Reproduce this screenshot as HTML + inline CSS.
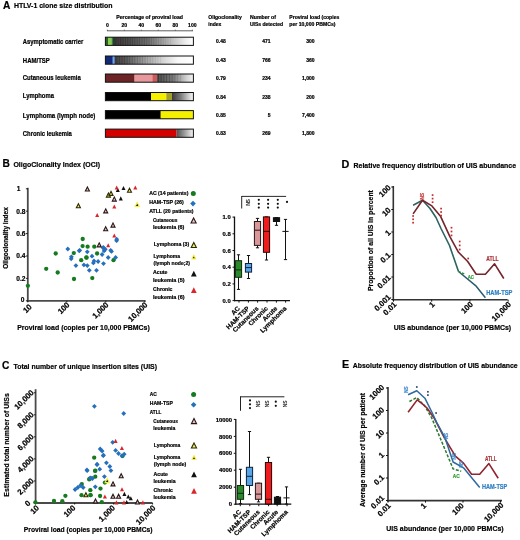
<!DOCTYPE html>
<html><head><meta charset="utf-8"><title>HTLV-1 clone size distribution</title>
<style>html,body{margin:0;padding:0;background:#fff;width:520px;height:540px;overflow:hidden}svg{display:block;filter:blur(0.3px)}text{font-family:"Liberation Sans",sans-serif}</style>
</head><body>
<svg width="520" height="540" viewBox="0 0 520 540" font-family='"Liberation Sans", sans-serif'>
<defs><linearGradient id="g1" x1="0" x2="1" y1="0" y2="0">
<stop offset="0" stop-color="#3c3c3c"/><stop offset="0.2" stop-color="#505050"/><stop offset="0.42" stop-color="#6e6e6e"/><stop offset="0.57" stop-color="#969696"/><stop offset="0.77" stop-color="#cacaca"/><stop offset="0.9" stop-color="#ececec"/><stop offset="1" stop-color="#fff"/></linearGradient><linearGradient id="g2" x1="0" x2="1" y1="0" y2="0">
<stop offset="0" stop-color="#454545"/><stop offset="0.12" stop-color="#585858"/><stop offset="0.41" stop-color="#a8a8a8"/><stop offset="0.64" stop-color="#dcdcdc"/><stop offset="0.8" stop-color="#f8f8f8"/><stop offset="1" stop-color="#fff"/></linearGradient><linearGradient id="g3" x1="0" x2="1" y1="0" y2="0">
<stop offset="0" stop-color="#505050"/><stop offset="0.45" stop-color="#7a7a7a"/><stop offset="0.8" stop-color="#cfcfcf"/><stop offset="1" stop-color="#f4f4f4"/></linearGradient><linearGradient id="g4" x1="0" x2="1" y1="0" y2="0">
<stop offset="0" stop-color="#3a3a3a"/><stop offset="0.4" stop-color="#7a7a7a"/><stop offset="0.85" stop-color="#dcdcdc"/><stop offset="1" stop-color="#f8f8f8"/></linearGradient><linearGradient id="g6" x1="0" x2="1" y1="0" y2="0">
<stop offset="0" stop-color="#505050"/><stop offset="0.5" stop-color="#a0a0a0"/><stop offset="1" stop-color="#f5f5f5"/></linearGradient></defs>
<rect width="520" height="540" fill="#fff"/>
<text x="2.90" y="8.70" font-size="10.2" font-weight="bold" fill="#000" stroke="#000" stroke-width="0.2">A</text>
<text x="13.90" y="8.00" font-size="7.6" font-weight="bold" fill="#000" textLength="98.60" lengthAdjust="spacingAndGlyphs" stroke="#000" stroke-width="0.2">HTLV-1 clone size distribution</text>
<text x="116.30" y="18.60" font-size="4.8" font-weight="bold" fill="#000" textLength="66.70" lengthAdjust="spacingAndGlyphs" stroke="#000" stroke-width="0.2">Percentage of proviral load</text>
<text x="107.30" y="27.20" font-size="5.1" font-weight="bold" fill="#000" text-anchor="middle" stroke="#000" stroke-width="0.2">0</text>
<text x="124.30" y="27.20" font-size="5.1" font-weight="bold" fill="#000" text-anchor="middle" stroke="#000" stroke-width="0.2">20</text>
<text x="141.30" y="27.20" font-size="5.1" font-weight="bold" fill="#000" text-anchor="middle" stroke="#000" stroke-width="0.2">40</text>
<text x="158.30" y="27.20" font-size="5.1" font-weight="bold" fill="#000" text-anchor="middle" stroke="#000" stroke-width="0.2">60</text>
<text x="175.30" y="27.20" font-size="5.1" font-weight="bold" fill="#000" text-anchor="middle" stroke="#000" stroke-width="0.2">80</text>
<text x="192.30" y="27.20" font-size="5.1" font-weight="bold" fill="#000" text-anchor="middle" stroke="#000" stroke-width="0.2">100</text>
<line x1="107.00" y1="30.80" x2="193.00" y2="30.80" stroke="#333" stroke-width="0.8"/>
<line x1="107.30" y1="29.60" x2="107.30" y2="30.80" stroke="#333" stroke-width="0.6"/>
<line x1="124.30" y1="29.60" x2="124.30" y2="30.80" stroke="#333" stroke-width="0.6"/>
<line x1="141.30" y1="29.60" x2="141.30" y2="30.80" stroke="#333" stroke-width="0.6"/>
<line x1="158.30" y1="29.60" x2="158.30" y2="30.80" stroke="#333" stroke-width="0.6"/>
<line x1="175.30" y1="29.60" x2="175.30" y2="30.80" stroke="#333" stroke-width="0.6"/>
<line x1="192.30" y1="29.60" x2="192.30" y2="30.80" stroke="#333" stroke-width="0.6"/>
<text x="22.80" y="44.00" font-size="6.5" font-weight="bold" fill="#000" textLength="60.50" lengthAdjust="spacingAndGlyphs" stroke="#000" stroke-width="0.2">Asymptomatic carrier</text>
<text x="22.80" y="62.60" font-size="6.5" font-weight="bold" fill="#000" textLength="27.00" lengthAdjust="spacingAndGlyphs" stroke="#000" stroke-width="0.2">HAM/TSP</text>
<text x="22.80" y="80.20" font-size="6.5" font-weight="bold" fill="#000" textLength="58.00" lengthAdjust="spacingAndGlyphs" stroke="#000" stroke-width="0.2">Cutaneous leukemia</text>
<text x="22.80" y="98.30" font-size="6.5" font-weight="bold" fill="#000" textLength="31.10" lengthAdjust="spacingAndGlyphs" stroke="#000" stroke-width="0.2">Lymphoma</text>
<text x="22.80" y="117.60" font-size="6.5" font-weight="bold" fill="#000" textLength="72.60" lengthAdjust="spacingAndGlyphs" stroke="#000" stroke-width="0.2">Lymphoma  (lymph node)</text>
<text x="22.80" y="136.10" font-size="6.5" font-weight="bold" fill="#000" textLength="49.10" lengthAdjust="spacingAndGlyphs" stroke="#000" stroke-width="0.2">Chronic leukemia</text>
<rect x="115.00" y="37.20" width="78.40" height="8.20" fill="url(#g1)" stroke="none" stroke-width="0"/>
<rect x="115.50" y="37.20" width="0.80" height="8.20" fill="#1a1a1a" stroke="none" stroke-width="0" opacity="0.45"/>
<rect x="117.87" y="37.20" width="0.80" height="8.20" fill="#1a1a1a" stroke="none" stroke-width="0" opacity="0.4326086956521739"/>
<rect x="120.24" y="37.20" width="0.80" height="8.20" fill="#1a1a1a" stroke="none" stroke-width="0" opacity="0.4152173913043478"/>
<rect x="122.61" y="37.20" width="0.80" height="8.20" fill="#1a1a1a" stroke="none" stroke-width="0" opacity="0.3978260869565218"/>
<rect x="124.98" y="37.20" width="0.80" height="8.20" fill="#1a1a1a" stroke="none" stroke-width="0" opacity="0.3804347826086957"/>
<rect x="127.35" y="37.20" width="0.80" height="8.20" fill="#1a1a1a" stroke="none" stroke-width="0" opacity="0.3630434782608696"/>
<rect x="129.72" y="37.20" width="0.80" height="8.20" fill="#1a1a1a" stroke="none" stroke-width="0" opacity="0.3456521739130435"/>
<rect x="132.09" y="37.20" width="0.80" height="8.20" fill="#1a1a1a" stroke="none" stroke-width="0" opacity="0.3282608695652174"/>
<rect x="134.46" y="37.20" width="0.80" height="8.20" fill="#1a1a1a" stroke="none" stroke-width="0" opacity="0.3108695652173913"/>
<rect x="136.83" y="37.20" width="0.80" height="8.20" fill="#1a1a1a" stroke="none" stroke-width="0" opacity="0.2934782608695652"/>
<rect x="139.20" y="37.20" width="0.80" height="8.20" fill="#1a1a1a" stroke="none" stroke-width="0" opacity="0.27608695652173915"/>
<rect x="141.57" y="37.20" width="0.80" height="8.20" fill="#1a1a1a" stroke="none" stroke-width="0" opacity="0.25869565217391305"/>
<rect x="143.93" y="37.20" width="0.80" height="8.20" fill="#1a1a1a" stroke="none" stroke-width="0" opacity="0.24130434782608695"/>
<rect x="146.30" y="37.20" width="0.80" height="8.20" fill="#1a1a1a" stroke="none" stroke-width="0" opacity="0.22391304347826088"/>
<rect x="148.67" y="37.20" width="0.80" height="8.20" fill="#1a1a1a" stroke="none" stroke-width="0" opacity="0.20652173913043476"/>
<rect x="151.04" y="37.20" width="0.80" height="8.20" fill="#1a1a1a" stroke="none" stroke-width="0" opacity="0.18913043478260871"/>
<rect x="153.41" y="37.20" width="0.80" height="8.20" fill="#1a1a1a" stroke="none" stroke-width="0" opacity="0.17173913043478262"/>
<rect x="155.78" y="37.20" width="0.80" height="8.20" fill="#1a1a1a" stroke="none" stroke-width="0" opacity="0.15434782608695652"/>
<rect x="158.15" y="37.20" width="0.80" height="8.20" fill="#1a1a1a" stroke="none" stroke-width="0" opacity="0.13695652173913042"/>
<rect x="160.52" y="37.20" width="0.80" height="8.20" fill="#1a1a1a" stroke="none" stroke-width="0" opacity="0.11956521739130432"/>
<rect x="162.89" y="37.20" width="0.80" height="8.20" fill="#1a1a1a" stroke="none" stroke-width="0" opacity="0.10217391304347828"/>
<rect x="165.26" y="37.20" width="0.80" height="8.20" fill="#1a1a1a" stroke="none" stroke-width="0" opacity="0.08478260869565218"/>
<rect x="167.63" y="37.20" width="0.80" height="8.20" fill="#1a1a1a" stroke="none" stroke-width="0" opacity="0.06739130434782609"/>
<rect x="170.00" y="37.20" width="0.80" height="8.20" fill="#1a1a1a" stroke="none" stroke-width="0" opacity="0.04999999999999999"/>
<rect x="118.50" y="37.20" width="0.80" height="8.20" fill="#6a3a3a" stroke="none" stroke-width="0" opacity="0.5"/>
<rect x="121.50" y="37.20" width="0.80" height="8.20" fill="#6a3a3a" stroke="none" stroke-width="0" opacity="0.4"/>
<rect x="124.00" y="37.20" width="0.80" height="8.20" fill="#505050" stroke="none" stroke-width="0" opacity="0.4"/>
<rect x="105.40" y="37.20" width="2.60" height="8.20" fill="#2e5e2a" stroke="none" stroke-width="0"/>
<rect x="108.00" y="37.20" width="3.50" height="8.20" fill="#84d046" stroke="none" stroke-width="0"/>
<rect x="111.50" y="37.20" width="1.50" height="8.20" fill="#3d7a3a" stroke="none" stroke-width="0"/>
<rect x="113.00" y="37.20" width="2.00" height="8.20" fill="#2a3a34" stroke="none" stroke-width="0"/>
<rect x="105.40" y="37.20" width="88.00" height="8.20" fill="none" stroke="#111" stroke-width="1.0"/>
<rect x="116.00" y="56.00" width="77.40" height="8.20" fill="url(#g2)" stroke="none" stroke-width="0"/>
<rect x="116.50" y="56.00" width="0.80" height="8.20" fill="#1a1a1a" stroke="none" stroke-width="0" opacity="0.4"/>
<rect x="119.06" y="56.00" width="0.80" height="8.20" fill="#1a1a1a" stroke="none" stroke-width="0" opacity="0.3794117647058824"/>
<rect x="121.62" y="56.00" width="0.80" height="8.20" fill="#1a1a1a" stroke="none" stroke-width="0" opacity="0.3588235294117647"/>
<rect x="124.18" y="56.00" width="0.80" height="8.20" fill="#1a1a1a" stroke="none" stroke-width="0" opacity="0.3382352941176471"/>
<rect x="126.74" y="56.00" width="0.80" height="8.20" fill="#1a1a1a" stroke="none" stroke-width="0" opacity="0.3176470588235294"/>
<rect x="129.29" y="56.00" width="0.80" height="8.20" fill="#1a1a1a" stroke="none" stroke-width="0" opacity="0.29705882352941176"/>
<rect x="131.85" y="56.00" width="0.80" height="8.20" fill="#1a1a1a" stroke="none" stroke-width="0" opacity="0.27647058823529413"/>
<rect x="134.41" y="56.00" width="0.80" height="8.20" fill="#1a1a1a" stroke="none" stroke-width="0" opacity="0.25588235294117645"/>
<rect x="136.97" y="56.00" width="0.80" height="8.20" fill="#1a1a1a" stroke="none" stroke-width="0" opacity="0.23529411764705882"/>
<rect x="139.53" y="56.00" width="0.80" height="8.20" fill="#1a1a1a" stroke="none" stroke-width="0" opacity="0.2147058823529412"/>
<rect x="142.09" y="56.00" width="0.80" height="8.20" fill="#1a1a1a" stroke="none" stroke-width="0" opacity="0.19411764705882353"/>
<rect x="144.65" y="56.00" width="0.80" height="8.20" fill="#1a1a1a" stroke="none" stroke-width="0" opacity="0.17352941176470588"/>
<rect x="147.21" y="56.00" width="0.80" height="8.20" fill="#1a1a1a" stroke="none" stroke-width="0" opacity="0.15294117647058822"/>
<rect x="149.76" y="56.00" width="0.80" height="8.20" fill="#1a1a1a" stroke="none" stroke-width="0" opacity="0.13235294117647062"/>
<rect x="152.32" y="56.00" width="0.80" height="8.20" fill="#1a1a1a" stroke="none" stroke-width="0" opacity="0.11176470588235293"/>
<rect x="154.88" y="56.00" width="0.80" height="8.20" fill="#1a1a1a" stroke="none" stroke-width="0" opacity="0.0911764705882353"/>
<rect x="157.44" y="56.00" width="0.80" height="8.20" fill="#1a1a1a" stroke="none" stroke-width="0" opacity="0.07058823529411762"/>
<rect x="160.00" y="56.00" width="0.80" height="8.20" fill="#1a1a1a" stroke="none" stroke-width="0" opacity="0.04999999999999999"/>
<rect x="122.00" y="56.00" width="0.80" height="8.20" fill="#7a3a3a" stroke="none" stroke-width="0" opacity="0.5"/>
<rect x="125.00" y="56.00" width="0.80" height="8.20" fill="#3a6a5a" stroke="none" stroke-width="0" opacity="0.4"/>
<rect x="105.40" y="56.00" width="7.40" height="8.20" fill="#12297a" stroke="none" stroke-width="0"/>
<rect x="112.80" y="56.00" width="1.60" height="8.20" fill="#6aaae8" stroke="none" stroke-width="0"/>
<rect x="114.40" y="56.00" width="1.60" height="8.20" fill="#303a5a" stroke="none" stroke-width="0"/>
<rect x="105.40" y="56.00" width="88.00" height="8.20" fill="none" stroke="#111" stroke-width="1.0"/>
<rect x="157.00" y="74.00" width="36.40" height="8.20" fill="url(#g3)" stroke="none" stroke-width="0"/>
<rect x="158.00" y="74.00" width="0.80" height="8.20" fill="#111" stroke="none" stroke-width="0" opacity="0.5"/>
<rect x="160.75" y="74.00" width="0.80" height="8.20" fill="#111" stroke="none" stroke-width="0" opacity="0.45"/>
<rect x="163.50" y="74.00" width="0.80" height="8.20" fill="#111" stroke="none" stroke-width="0" opacity="0.4"/>
<rect x="166.25" y="74.00" width="0.80" height="8.20" fill="#111" stroke="none" stroke-width="0" opacity="0.35"/>
<rect x="169.00" y="74.00" width="0.80" height="8.20" fill="#111" stroke="none" stroke-width="0" opacity="0.3"/>
<rect x="171.75" y="74.00" width="0.80" height="8.20" fill="#111" stroke="none" stroke-width="0" opacity="0.25"/>
<rect x="174.50" y="74.00" width="0.80" height="8.20" fill="#111" stroke="none" stroke-width="0" opacity="0.19999999999999996"/>
<rect x="177.25" y="74.00" width="0.80" height="8.20" fill="#111" stroke="none" stroke-width="0" opacity="0.14999999999999997"/>
<rect x="180.00" y="74.00" width="0.80" height="8.20" fill="#111" stroke="none" stroke-width="0" opacity="0.09999999999999998"/>
<rect x="105.40" y="74.00" width="29.20" height="8.20" fill="#6e2426" stroke="none" stroke-width="0"/>
<rect x="134.60" y="74.00" width="17.70" height="8.20" fill="#e8989c" stroke="none" stroke-width="0"/>
<rect x="152.30" y="74.00" width="4.70" height="8.20" fill="#cc5c5c" stroke="none" stroke-width="0"/>
<rect x="105.40" y="74.00" width="88.00" height="8.20" fill="none" stroke="#111" stroke-width="1.0"/>
<rect x="172.00" y="92.50" width="21.40" height="8.20" fill="url(#g4)" stroke="none" stroke-width="0"/>
<rect x="105.40" y="92.50" width="45.60" height="8.20" fill="#000" stroke="none" stroke-width="0"/>
<rect x="151.00" y="92.50" width="15.30" height="8.20" fill="#f5f000" stroke="none" stroke-width="0"/>
<rect x="166.30" y="92.50" width="5.70" height="8.20" fill="#a3a022" stroke="none" stroke-width="0"/>
<rect x="105.40" y="92.50" width="88.00" height="8.20" fill="none" stroke="#111" stroke-width="1.0"/>
<rect x="160.00" y="110.60" width="33.40" height="8.20" fill="url(#g4)" stroke="none" stroke-width="0"/>
<rect x="105.40" y="110.60" width="55.20" height="8.20" fill="#000" stroke="none" stroke-width="0"/>
<rect x="160.60" y="110.60" width="32.80" height="8.20" fill="#f5f000" stroke="none" stroke-width="0"/>
<rect x="105.40" y="110.60" width="88.00" height="8.20" fill="none" stroke="#111" stroke-width="1.0"/>
<rect x="176.50" y="129.10" width="16.90" height="8.20" fill="url(#g6)" stroke="none" stroke-width="0"/>
<rect x="105.40" y="129.10" width="71.10" height="8.20" fill="#d40000" stroke="none" stroke-width="0"/>
<rect x="105.40" y="129.10" width="88.00" height="8.20" fill="none" stroke="#111" stroke-width="1.0"/>
<text x="208.30" y="19.00" font-size="4.9" font-weight="bold" fill="#000" textLength="33.40" lengthAdjust="spacingAndGlyphs" stroke="#000" stroke-width="0.2">Oligoclonality</text>
<text x="208.30" y="26.00" font-size="4.9" font-weight="bold" fill="#000" textLength="13.00" lengthAdjust="spacingAndGlyphs" stroke="#000" stroke-width="0.2">index</text>
<text x="250.00" y="19.00" font-size="4.9" font-weight="bold" fill="#000" textLength="26.00" lengthAdjust="spacingAndGlyphs" stroke="#000" stroke-width="0.2">Number of</text>
<text x="250.00" y="26.00" font-size="4.9" font-weight="bold" fill="#000" textLength="33.00" lengthAdjust="spacingAndGlyphs" stroke="#000" stroke-width="0.2">UISs detected</text>
<text x="289.30" y="19.00" font-size="4.9" font-weight="bold" fill="#000" textLength="50.00" lengthAdjust="spacingAndGlyphs" stroke="#000" stroke-width="0.2">Proviral load (copies</text>
<text x="289.30" y="26.00" font-size="4.9" font-weight="bold" fill="#000" textLength="46.20" lengthAdjust="spacingAndGlyphs" stroke="#000" stroke-width="0.2">per 10,000 PBMCs)</text>
<text x="216.00" y="43.20" font-size="5.0" font-weight="bold" fill="#000" stroke="#000" stroke-width="0.2">0.48</text>
<text x="270.60" y="43.20" font-size="5.0" font-weight="bold" fill="#000" text-anchor="end" stroke="#000" stroke-width="0.2">471</text>
<text x="314.60" y="43.20" font-size="5.0" font-weight="bold" fill="#000" text-anchor="end" stroke="#000" stroke-width="0.2">300</text>
<text x="216.00" y="62.00" font-size="5.0" font-weight="bold" fill="#000" stroke="#000" stroke-width="0.2">0.43</text>
<text x="270.60" y="62.00" font-size="5.0" font-weight="bold" fill="#000" text-anchor="end" stroke="#000" stroke-width="0.2">766</text>
<text x="314.60" y="62.00" font-size="5.0" font-weight="bold" fill="#000" text-anchor="end" stroke="#000" stroke-width="0.2">360</text>
<text x="216.00" y="80.00" font-size="5.0" font-weight="bold" fill="#000" stroke="#000" stroke-width="0.2">0.79</text>
<text x="270.60" y="80.00" font-size="5.0" font-weight="bold" fill="#000" text-anchor="end" stroke="#000" stroke-width="0.2">234</text>
<text x="314.60" y="80.00" font-size="5.0" font-weight="bold" fill="#000" text-anchor="end" stroke="#000" stroke-width="0.2">1,000</text>
<text x="216.00" y="98.50" font-size="5.0" font-weight="bold" fill="#000" stroke="#000" stroke-width="0.2">0.84</text>
<text x="270.60" y="98.50" font-size="5.0" font-weight="bold" fill="#000" text-anchor="end" stroke="#000" stroke-width="0.2">238</text>
<text x="314.60" y="98.50" font-size="5.0" font-weight="bold" fill="#000" text-anchor="end" stroke="#000" stroke-width="0.2">200</text>
<text x="216.00" y="116.60" font-size="5.0" font-weight="bold" fill="#000" stroke="#000" stroke-width="0.2">0.85</text>
<text x="270.60" y="116.60" font-size="5.0" font-weight="bold" fill="#000" text-anchor="end" stroke="#000" stroke-width="0.2">5</text>
<text x="314.60" y="116.60" font-size="5.0" font-weight="bold" fill="#000" text-anchor="end" stroke="#000" stroke-width="0.2">7,400</text>
<text x="216.00" y="135.10" font-size="5.0" font-weight="bold" fill="#000" stroke="#000" stroke-width="0.2">0.83</text>
<text x="270.60" y="135.10" font-size="5.0" font-weight="bold" fill="#000" text-anchor="end" stroke="#000" stroke-width="0.2">269</text>
<text x="314.60" y="135.10" font-size="5.0" font-weight="bold" fill="#000" text-anchor="end" stroke="#000" stroke-width="0.2">1,800</text>
<text x="2.60" y="167.00" font-size="10.2" font-weight="bold" fill="#000" stroke="#000" stroke-width="0.2">B</text>
<text x="13.40" y="166.70" font-size="7.5" font-weight="bold" fill="#000" textLength="86.60" lengthAdjust="spacingAndGlyphs" stroke="#000" stroke-width="0.2">OligoClonality Index (OCI)</text>
<line x1="27.80" y1="187.80" x2="27.80" y2="301.70" stroke="#4a4a4a" stroke-width="1.8"/>
<line x1="26.90" y1="300.80" x2="145.60" y2="300.80" stroke="#4a4a4a" stroke-width="1.8"/>
<line x1="25.90" y1="300.80" x2="27.80" y2="300.80" stroke="#111" stroke-width="0.9"/>
<line x1="25.90" y1="278.40" x2="27.80" y2="278.40" stroke="#111" stroke-width="0.9"/>
<line x1="25.90" y1="256.00" x2="27.80" y2="256.00" stroke="#111" stroke-width="0.9"/>
<line x1="25.90" y1="233.60" x2="27.80" y2="233.60" stroke="#111" stroke-width="0.9"/>
<line x1="25.90" y1="211.20" x2="27.80" y2="211.20" stroke="#111" stroke-width="0.9"/>
<line x1="25.90" y1="188.80" x2="27.80" y2="188.80" stroke="#111" stroke-width="0.9"/>
<text x="24.40" y="302.10" font-size="6.6" font-weight="bold" fill="#000" text-anchor="end" stroke="#000" stroke-width="0.2">0</text>
<text x="25.40" y="280.70" font-size="6.6" font-weight="bold" fill="#000" text-anchor="end" stroke="#000" stroke-width="0.2">0.2</text>
<text x="25.40" y="258.30" font-size="6.6" font-weight="bold" fill="#000" text-anchor="end" stroke="#000" stroke-width="0.2">0.4</text>
<text x="25.40" y="235.90" font-size="6.6" font-weight="bold" fill="#000" text-anchor="end" stroke="#000" stroke-width="0.2">0.6</text>
<text x="25.40" y="213.50" font-size="6.6" font-weight="bold" fill="#000" text-anchor="end" stroke="#000" stroke-width="0.2">0.8</text>
<text x="20.40" y="191.10" font-size="6.6" font-weight="bold" fill="#000" text-anchor="end" stroke="#000" stroke-width="0.2">1</text>
<line x1="27.80" y1="300.80" x2="27.80" y2="302.30" stroke="#111" stroke-width="0.9"/>
<line x1="66.80" y1="300.80" x2="66.80" y2="302.30" stroke="#111" stroke-width="0.9"/>
<line x1="105.80" y1="300.80" x2="105.80" y2="302.30" stroke="#111" stroke-width="0.9"/>
<line x1="144.80" y1="300.80" x2="144.80" y2="302.30" stroke="#111" stroke-width="0.9"/>
<text x="32.40" y="307.30" font-size="7.8" font-weight="bold" fill="#000" text-anchor="end" transform="rotate(-45 32.40 307.30)" stroke="#000" stroke-width="0.2">10</text>
<text x="70.20" y="305.30" font-size="7.8" font-weight="bold" fill="#000" text-anchor="end" transform="rotate(-45 70.20 305.30)" stroke="#000" stroke-width="0.2">100</text>
<text x="109.20" y="305.30" font-size="7.8" font-weight="bold" fill="#000" text-anchor="end" transform="rotate(-45 109.20 305.30)" stroke="#000" stroke-width="0.2">1,000</text>
<text x="148.20" y="305.30" font-size="7.8" font-weight="bold" fill="#000" text-anchor="end" transform="rotate(-45 148.20 305.30)" stroke="#000" stroke-width="0.2">10,000</text>
<text x="7.70" y="238.00" font-size="6.4" font-weight="bold" fill="#000" text-anchor="middle" textLength="61.50" lengthAdjust="spacingAndGlyphs" transform="rotate(-90 7.70 238.00)" stroke="#000" stroke-width="0.2">Oligoclonality index</text>
<text x="17.20" y="329.60" font-size="7.2" font-weight="bold" fill="#000" textLength="132.60" lengthAdjust="spacingAndGlyphs" stroke="#000" stroke-width="0.2">Proviral load (copies per 10,000 PBMCs)</text>
<circle cx="82.60" cy="246.10" r="2.15" fill="#167a1f"/>
<circle cx="87.60" cy="246.70" r="2.15" fill="#167a1f"/>
<circle cx="94.30" cy="246.70" r="2.15" fill="#167a1f"/>
<circle cx="55.70" cy="253.50" r="2.15" fill="#167a1f"/>
<circle cx="73.80" cy="253.10" r="2.15" fill="#167a1f"/>
<circle cx="97.10" cy="253.50" r="2.15" fill="#167a1f"/>
<circle cx="86.40" cy="257.50" r="2.15" fill="#167a1f"/>
<circle cx="81.20" cy="260.20" r="2.15" fill="#167a1f"/>
<circle cx="113.50" cy="260.20" r="2.15" fill="#167a1f"/>
<circle cx="57.70" cy="272.50" r="2.15" fill="#167a1f"/>
<circle cx="46.20" cy="268.80" r="2.15" fill="#167a1f"/>
<circle cx="74.00" cy="279.00" r="2.15" fill="#167a1f"/>
<circle cx="92.30" cy="278.10" r="2.15" fill="#167a1f"/>
<circle cx="27.90" cy="285.80" r="2.15" fill="#167a1f"/>
<circle cx="82.70" cy="239.00" r="2.15" fill="#167a1f"/>
<circle cx="86.50" cy="257.70" r="2.15" fill="#167a1f"/>
<path d="M67.80 246.60L70.20 249.00L67.80 251.40L65.40 249.00Z" fill="#2470bd"/>
<path d="M79.20 248.40L81.60 250.80L79.20 253.20L76.80 250.80Z" fill="#2470bd"/>
<path d="M87.30 249.40L89.70 251.80L87.30 254.20L84.90 251.80Z" fill="#2470bd"/>
<path d="M103.50 245.90L105.90 248.30L103.50 250.70L101.10 248.30Z" fill="#2470bd"/>
<path d="M105.30 246.90L107.70 249.30L105.30 251.70L102.90 249.30Z" fill="#2470bd"/>
<path d="M104.10 248.50L106.50 250.90L104.10 253.30L101.70 250.90Z" fill="#2470bd"/>
<path d="M111.50 249.00L113.90 251.40L111.50 253.80L109.10 251.40Z" fill="#2470bd"/>
<path d="M116.60 238.30L119.00 240.70L116.60 243.10L114.20 240.70Z" fill="#2470bd"/>
<path d="M102.10 252.10L104.50 254.50L102.10 256.90L99.70 254.50Z" fill="#2470bd"/>
<path d="M71.40 254.40L73.80 256.80L71.40 259.20L69.00 256.80Z" fill="#2470bd"/>
<path d="M71.20 256.40L73.60 258.80L71.20 261.20L68.80 258.80Z" fill="#2470bd"/>
<path d="M92.00 253.80L94.40 256.20L92.00 258.60L89.60 256.20Z" fill="#2470bd"/>
<path d="M108.20 255.10L110.60 257.50L108.20 259.90L105.80 257.50Z" fill="#2470bd"/>
<path d="M115.60 255.10L118.00 257.50L115.60 259.90L113.20 257.50Z" fill="#2470bd"/>
<path d="M94.00 258.50L96.40 260.90L94.00 263.30L91.60 260.90Z" fill="#2470bd"/>
<path d="M98.10 259.10L100.50 261.50L98.10 263.90L95.70 261.50Z" fill="#2470bd"/>
<path d="M93.40 260.50L95.80 262.90L93.40 265.30L91.00 262.90Z" fill="#2470bd"/>
<path d="M103.50 261.20L105.90 263.60L103.50 266.00L101.10 263.60Z" fill="#2470bd"/>
<path d="M75.90 263.20L78.30 265.60L75.90 268.00L73.50 265.60Z" fill="#2470bd"/>
<path d="M83.90 262.50L86.30 264.90L83.90 267.30L81.50 264.90Z" fill="#2470bd"/>
<path d="M87.30 263.20L89.70 265.60L87.30 268.00L84.90 265.60Z" fill="#2470bd"/>
<path d="M89.30 267.90L91.70 270.30L89.30 272.70L86.90 270.30Z" fill="#2470bd"/>
<path d="M96.50 267.90L98.90 270.30L96.50 272.70L94.10 270.30Z" fill="#2470bd"/>
<path d="M116.70 236.80L119.10 239.20L116.70 241.60L114.30 239.20Z" fill="#2470bd"/>
<path d="M103.30 244.90L105.70 247.30L103.30 249.70L100.90 247.30Z" fill="#2470bd"/>
<path d="M110.70 247.90L113.10 250.30L110.70 252.70L108.30 250.30Z" fill="#2470bd"/>
<path d="M79.70 247.90L82.10 250.30L79.70 252.70L77.30 250.30Z" fill="#2470bd"/>
<polygon points="87.40,186.97 89.42,191.02 85.38,191.02" fill="#e8c8c8" stroke="#2a1616" stroke-width="1.1" stroke-linejoin="miter"/>
<polygon points="114.30,197.07 116.32,201.12 112.28,201.12" fill="#e8c8c8" stroke="#2a1616" stroke-width="1.1" stroke-linejoin="miter"/>
<polygon points="105.70,208.87 107.72,212.92 103.68,212.92" fill="#e8c8c8" stroke="#2a1616" stroke-width="1.1" stroke-linejoin="miter"/>
<polygon points="113.00,223.07 115.02,227.12 110.98,227.12" fill="#e8c8c8" stroke="#2a1616" stroke-width="1.1" stroke-linejoin="miter"/>
<polygon points="105.70,226.67 107.72,230.72 103.68,230.72" fill="#e8c8c8" stroke="#2a1616" stroke-width="1.1" stroke-linejoin="miter"/>
<polygon points="99.20,242.87 101.22,246.92 97.18,246.92" fill="#e8c8c8" stroke="#2a1616" stroke-width="1.1" stroke-linejoin="miter"/>
<polygon points="78.40,203.77 80.42,207.82 76.38,207.82" fill="#f0f070" stroke="#2a2a00" stroke-width="1.1"/>
<polygon points="129.50,188.27 131.52,192.32 127.48,192.32" fill="#f0f070" stroke="#2a2a00" stroke-width="1.1"/>
<polygon points="108.40,193.07 110.42,197.12 106.38,197.12" fill="#f0f070" stroke="#2a2a00" stroke-width="1.1"/>
<polygon points="111.00,191.37 113.02,195.42 108.98,195.42" fill="#f0f070" stroke="#2a2a00" stroke-width="1.1"/>
<polygon points="137.20,202.47 139.22,206.52 135.18,206.52" fill="#111" stroke="#f5f040" stroke-width="1.1"/>
<polygon points="117.80,187.87 119.82,191.92 115.78,191.92" fill="#111"/>
<polygon points="123.50,186.07 125.52,190.12 121.48,190.12" fill="#111"/>
<polygon points="120.80,196.37 122.82,200.42 118.78,200.42" fill="#111"/>
<polygon points="116.70,185.57 118.72,189.62 114.68,189.62" fill="#d9262b"/>
<polygon points="135.30,185.57 137.32,189.62 133.28,189.62" fill="#d9262b"/>
<polygon points="114.30,204.47 116.32,208.52 112.28,208.52" fill="#d9262b"/>
<polygon points="97.20,212.97 99.22,217.02 95.18,217.02" fill="#d9262b"/>
<polygon points="114.30,233.47 116.32,237.52 112.28,237.52" fill="#d9262b"/>
<polygon points="108.20,243.27 110.22,247.32 106.18,247.32" fill="#d9262b"/>
<text x="149.20" y="195.40" font-size="5.2" font-weight="bold" fill="#000" textLength="39.20" lengthAdjust="spacingAndGlyphs" stroke="#000" stroke-width="0.2">AC (14 patients)</text>
<circle cx="193.30" cy="193.60" r="2.5" fill="#167a1f"/>
<text x="149.20" y="204.30" font-size="5.2" font-weight="bold" fill="#000" textLength="34.60" lengthAdjust="spacingAndGlyphs" stroke="#000" stroke-width="0.2">HAM-TSP (26)</text>
<path d="M193.00 200.80L195.80 203.60L193.00 206.40L190.20 203.60Z" fill="#2470bd"/>
<text x="149.20" y="212.70" font-size="5.2" font-weight="bold" fill="#000" textLength="44.40" lengthAdjust="spacingAndGlyphs" stroke="#000" stroke-width="0.2">ATLL (20 patients)</text>
<text x="152.90" y="221.90" font-size="5.2" font-weight="bold" fill="#000" textLength="24.50" lengthAdjust="spacingAndGlyphs" stroke="#000" stroke-width="0.2">Cutaneous</text>
<text x="152.90" y="228.90" font-size="5.2" font-weight="bold" fill="#000" textLength="31.50" lengthAdjust="spacingAndGlyphs" stroke="#000" stroke-width="0.2">leukemia (6)</text>
<polygon points="193.60,217.91 196.18,223.06 191.02,223.06" fill="#e8c8c8" stroke="#2a1616" stroke-width="1.1" stroke-linejoin="miter"/>
<text x="153.80" y="245.80" font-size="5.2" font-weight="bold" fill="#000" textLength="35.40" lengthAdjust="spacingAndGlyphs" stroke="#000" stroke-width="0.2">Lymphoma (3)</text>
<polygon points="193.80,242.41 196.38,247.56 191.22,247.56" fill="#f0f070" stroke="#2a2a00" stroke-width="1.1"/>
<text x="153.50" y="257.70" font-size="5.2" font-weight="bold" fill="#000" textLength="26.50" lengthAdjust="spacingAndGlyphs" stroke="#000" stroke-width="0.2">Lymphoma</text>
<text x="153.50" y="264.80" font-size="5.2" font-weight="bold" fill="#000" textLength="36.50" lengthAdjust="spacingAndGlyphs" stroke="#000" stroke-width="0.2">(lymph node;2)</text>
<polygon points="193.80,255.19 195.64,258.87 191.96,258.87" fill="#111" stroke="#f5f040" stroke-width="1.1"/>
<text x="153.00" y="274.30" font-size="5.2" font-weight="bold" fill="#000" textLength="14.50" lengthAdjust="spacingAndGlyphs" stroke="#000" stroke-width="0.2">Acute</text>
<text x="153.00" y="281.70" font-size="5.2" font-weight="bold" fill="#000" textLength="31.50" lengthAdjust="spacingAndGlyphs" stroke="#000" stroke-width="0.2">leukemia (5)</text>
<polygon points="193.80,270.75 196.68,276.50 190.93,276.50" fill="#111"/>
<text x="153.00" y="290.80" font-size="5.2" font-weight="bold" fill="#000" textLength="19.50" lengthAdjust="spacingAndGlyphs" stroke="#000" stroke-width="0.2">Chronic</text>
<text x="153.00" y="298.50" font-size="5.2" font-weight="bold" fill="#000" textLength="31.50" lengthAdjust="spacingAndGlyphs" stroke="#000" stroke-width="0.2">leukemia (6)</text>
<polygon points="193.80,287.35 196.68,293.10 190.93,293.10" fill="#d9262b"/>
<line x1="234.50" y1="216.60" x2="234.50" y2="301.20" stroke="#111" stroke-width="1.3"/>
<line x1="233.90" y1="300.60" x2="290.00" y2="300.60" stroke="#111" stroke-width="1.3"/>
<line x1="232.50" y1="300.60" x2="234.50" y2="300.60" stroke="#111" stroke-width="1.0"/>
<text x="230.80" y="302.70" font-size="5.9" font-weight="bold" fill="#000" text-anchor="end" stroke="#000" stroke-width="0.2">0.0</text>
<line x1="232.50" y1="283.90" x2="234.50" y2="283.90" stroke="#111" stroke-width="1.0"/>
<text x="230.80" y="286.00" font-size="5.9" font-weight="bold" fill="#000" text-anchor="end" stroke="#000" stroke-width="0.2">0.2</text>
<line x1="232.50" y1="267.20" x2="234.50" y2="267.20" stroke="#111" stroke-width="1.0"/>
<text x="230.80" y="269.30" font-size="5.9" font-weight="bold" fill="#000" text-anchor="end" stroke="#000" stroke-width="0.2">0.4</text>
<line x1="232.50" y1="250.50" x2="234.50" y2="250.50" stroke="#111" stroke-width="1.0"/>
<text x="230.80" y="252.60" font-size="5.9" font-weight="bold" fill="#000" text-anchor="end" stroke="#000" stroke-width="0.2">0.6</text>
<line x1="232.50" y1="233.80" x2="234.50" y2="233.80" stroke="#111" stroke-width="1.0"/>
<text x="230.80" y="235.90" font-size="5.9" font-weight="bold" fill="#000" text-anchor="end" stroke="#000" stroke-width="0.2">0.8</text>
<line x1="232.50" y1="217.10" x2="234.50" y2="217.10" stroke="#111" stroke-width="1.0"/>
<text x="230.80" y="219.20" font-size="5.9" font-weight="bold" fill="#000" text-anchor="end" stroke="#000" stroke-width="0.2">1.0</text>
<line x1="239.00" y1="300.60" x2="239.00" y2="302.60" stroke="#111" stroke-width="1.0"/>
<line x1="248.40" y1="300.60" x2="248.40" y2="302.60" stroke="#111" stroke-width="1.0"/>
<line x1="257.60" y1="300.60" x2="257.60" y2="302.60" stroke="#111" stroke-width="1.0"/>
<line x1="267.00" y1="300.60" x2="267.00" y2="302.60" stroke="#111" stroke-width="1.0"/>
<line x1="276.40" y1="300.60" x2="276.40" y2="302.60" stroke="#111" stroke-width="1.0"/>
<line x1="285.60" y1="300.60" x2="285.60" y2="302.60" stroke="#111" stroke-width="1.0"/>
<line x1="238.50" y1="254.80" x2="238.50" y2="289.40" stroke="#111" stroke-width="1.0"/>
<line x1="236.90" y1="254.80" x2="240.10" y2="254.80" stroke="#111" stroke-width="1.0"/>
<line x1="236.90" y1="289.40" x2="240.10" y2="289.40" stroke="#111" stroke-width="1.0"/>
<rect x="235.40" y="260.70" width="6.20" height="16.60" fill="#2a8a2a" stroke="#0d2a0d" stroke-width="1.0"/>
<line x1="235.40" y1="269.90" x2="241.60" y2="269.90" stroke="#0d2a0d" stroke-width="1.0"/>
<line x1="248.50" y1="255.50" x2="248.50" y2="278.50" stroke="#111" stroke-width="1.0"/>
<line x1="246.90" y1="255.50" x2="250.10" y2="255.50" stroke="#111" stroke-width="1.0"/>
<line x1="246.90" y1="278.50" x2="250.10" y2="278.50" stroke="#111" stroke-width="1.0"/>
<rect x="245.40" y="263.50" width="6.20" height="8.60" fill="#5aa5e6" stroke="#0c2440" stroke-width="1.0"/>
<line x1="245.40" y1="267.60" x2="251.60" y2="267.60" stroke="#0c2440" stroke-width="1.0"/>
<line x1="257.50" y1="218.40" x2="257.50" y2="247.80" stroke="#111" stroke-width="1.0"/>
<line x1="255.90" y1="218.40" x2="259.10" y2="218.40" stroke="#111" stroke-width="1.0"/>
<line x1="255.90" y1="247.80" x2="259.10" y2="247.80" stroke="#111" stroke-width="1.0"/>
<rect x="254.40" y="221.50" width="6.20" height="23.90" fill="#d8989a" stroke="#2a1414" stroke-width="1.0"/>
<line x1="254.40" y1="230.20" x2="260.60" y2="230.20" stroke="#2a1414" stroke-width="1.0"/>
<line x1="266.50" y1="216.90" x2="266.50" y2="260.00" stroke="#111" stroke-width="1.0"/>
<line x1="264.90" y1="216.90" x2="268.10" y2="216.90" stroke="#111" stroke-width="1.0"/>
<line x1="264.90" y1="260.00" x2="268.10" y2="260.00" stroke="#111" stroke-width="1.0"/>
<rect x="263.40" y="216.90" width="6.20" height="35.40" fill="#ee1c1c" stroke="#2a0606" stroke-width="1.0"/>
<line x1="263.40" y1="231.40" x2="269.60" y2="231.40" stroke="#2a0606" stroke-width="1.0"/>
<line x1="276.50" y1="217.70" x2="276.50" y2="225.30" stroke="#111" stroke-width="1.0"/>
<line x1="274.90" y1="217.70" x2="278.10" y2="217.70" stroke="#111" stroke-width="1.0"/>
<line x1="274.90" y1="225.30" x2="278.10" y2="225.30" stroke="#111" stroke-width="1.0"/>
<rect x="273.40" y="217.70" width="6.20" height="3.80" fill="#111" stroke="#111" stroke-width="1.0"/>
<line x1="273.40" y1="219.20" x2="279.60" y2="219.20" stroke="#111" stroke-width="1.0"/>
<line x1="285.50" y1="219.40" x2="285.50" y2="259.60" stroke="#111" stroke-width="1.0"/>
<line x1="283.90" y1="219.40" x2="287.10" y2="219.40" stroke="#111" stroke-width="1.0"/>
<line x1="283.90" y1="259.60" x2="287.10" y2="259.60" stroke="#111" stroke-width="1.0"/>
<line x1="282.40" y1="231.40" x2="288.60" y2="231.40" stroke="#111" stroke-width="1.0"/>
<text x="240.40" y="308.90" font-size="6.5" font-weight="bold" fill="#000" text-anchor="end" transform="rotate(-45 240.40 308.90)" stroke="#000" stroke-width="0.2">AC</text>
<text x="249.80" y="308.90" font-size="6.5" font-weight="bold" fill="#000" text-anchor="end" transform="rotate(-45 249.80 308.90)" stroke="#000" stroke-width="0.2">HAM-TSP</text>
<text x="259.00" y="308.90" font-size="6.5" font-weight="bold" fill="#000" text-anchor="end" transform="rotate(-45 259.00 308.90)" stroke="#000" stroke-width="0.2">Cutaneous</text>
<text x="268.40" y="308.90" font-size="6.5" font-weight="bold" fill="#000" text-anchor="end" transform="rotate(-45 268.40 308.90)" stroke="#000" stroke-width="0.2">Chronic</text>
<text x="277.80" y="308.90" font-size="6.5" font-weight="bold" fill="#000" text-anchor="end" transform="rotate(-45 277.80 308.90)" stroke="#000" stroke-width="0.2">Acute</text>
<text x="287.00" y="308.90" font-size="6.5" font-weight="bold" fill="#000" text-anchor="end" transform="rotate(-45 287.00 308.90)" stroke="#000" stroke-width="0.2">Lymphoma</text>
<line x1="241.70" y1="196.40" x2="286.10" y2="196.40" stroke="#111" stroke-width="0.9"/>
<line x1="241.70" y1="196.00" x2="241.70" y2="208.50" stroke="#111" stroke-width="0.9"/>
<text x="250.00" y="202.40" font-size="4.6" font-weight="normal" fill="#000" text-anchor="middle" transform="rotate(-90 250.00 202.40)" stroke="#222" stroke-width="0.15">NS</text>
<circle cx="258.80" cy="199.80" r="1.1" fill="#111"/>
<circle cx="258.80" cy="203.80" r="1.1" fill="#111"/>
<circle cx="258.80" cy="207.60" r="1.1" fill="#111"/>
<circle cx="268.10" cy="199.80" r="1.1" fill="#111"/>
<circle cx="268.10" cy="203.80" r="1.1" fill="#111"/>
<circle cx="268.10" cy="207.60" r="1.1" fill="#111"/>
<circle cx="277.80" cy="199.80" r="1.1" fill="#111"/>
<circle cx="277.80" cy="203.80" r="1.1" fill="#111"/>
<circle cx="277.80" cy="207.60" r="1.1" fill="#111"/>
<circle cx="287.00" cy="201.90" r="1.1" fill="#111"/>
<text x="341.60" y="167.60" font-size="10.8" font-weight="bold" fill="#000" stroke="#000" stroke-width="0.2">D</text>
<text x="353.50" y="167.50" font-size="7.8" font-weight="bold" fill="#000" textLength="162.50" lengthAdjust="spacingAndGlyphs" stroke="#000" stroke-width="0.2">Relative frequency distribution of UIS abundance</text>
<line x1="393.30" y1="186.00" x2="393.30" y2="300.50" stroke="#333" stroke-width="1.6"/>
<line x1="392.50" y1="299.70" x2="507.60" y2="299.70" stroke="#333" stroke-width="1.6"/>
<line x1="391.30" y1="187.00" x2="393.30" y2="187.00" stroke="#111" stroke-width="1.0"/>
<text x="391.30" y="188.20" font-size="7.8" font-weight="bold" fill="#000" text-anchor="end" transform="rotate(-45 391.30 188.20)" stroke="#000" stroke-width="0.2">100</text>
<line x1="391.30" y1="209.50" x2="393.30" y2="209.50" stroke="#111" stroke-width="1.0"/>
<text x="391.30" y="210.70" font-size="7.8" font-weight="bold" fill="#000" text-anchor="end" transform="rotate(-45 391.30 210.70)" stroke="#000" stroke-width="0.2">10</text>
<line x1="391.30" y1="232.00" x2="393.30" y2="232.00" stroke="#111" stroke-width="1.0"/>
<text x="391.30" y="233.20" font-size="7.8" font-weight="bold" fill="#000" text-anchor="end" transform="rotate(-45 391.30 233.20)" stroke="#000" stroke-width="0.2">1</text>
<line x1="391.30" y1="254.50" x2="393.30" y2="254.50" stroke="#111" stroke-width="1.0"/>
<text x="391.30" y="255.70" font-size="7.8" font-weight="bold" fill="#000" text-anchor="end" transform="rotate(-45 391.30 255.70)" stroke="#000" stroke-width="0.2">0.1</text>
<line x1="391.30" y1="277.00" x2="393.30" y2="277.00" stroke="#111" stroke-width="1.0"/>
<text x="391.30" y="278.20" font-size="7.8" font-weight="bold" fill="#000" text-anchor="end" transform="rotate(-45 391.30 278.20)" stroke="#000" stroke-width="0.2">0.01</text>
<line x1="391.30" y1="299.50" x2="393.30" y2="299.50" stroke="#111" stroke-width="1.0"/>
<text x="391.30" y="297.70" font-size="7.8" font-weight="bold" fill="#000" text-anchor="end" transform="rotate(-45 391.30 297.70)" stroke="#000" stroke-width="0.2">0.001</text>
<line x1="393.50" y1="299.70" x2="393.50" y2="301.70" stroke="#111" stroke-width="1.0"/>
<text x="397.10" y="304.90" font-size="7.8" font-weight="bold" fill="#000" text-anchor="end" transform="rotate(-45 397.10 304.90)" stroke="#000" stroke-width="0.2">0.01</text>
<line x1="431.70" y1="299.70" x2="431.70" y2="301.70" stroke="#111" stroke-width="1.0"/>
<text x="435.30" y="304.90" font-size="7.8" font-weight="bold" fill="#000" text-anchor="end" transform="rotate(-45 435.30 304.90)" stroke="#000" stroke-width="0.2">1</text>
<line x1="469.90" y1="299.70" x2="469.90" y2="301.70" stroke="#111" stroke-width="1.0"/>
<text x="473.50" y="304.90" font-size="7.8" font-weight="bold" fill="#000" text-anchor="end" transform="rotate(-45 473.50 304.90)" stroke="#000" stroke-width="0.2">100</text>
<line x1="508.10" y1="299.70" x2="508.10" y2="301.70" stroke="#111" stroke-width="1.0"/>
<text x="511.70" y="304.90" font-size="7.8" font-weight="bold" fill="#000" text-anchor="end" transform="rotate(-45 511.70 304.90)" stroke="#000" stroke-width="0.2">10,000</text>
<text x="373.00" y="240.60" font-size="7.5" font-weight="bold" fill="#000" text-anchor="middle" textLength="101.00" lengthAdjust="spacingAndGlyphs" transform="rotate(-90 373.00 240.60)" stroke="#000" stroke-width="0.2">Proportion of all UIS in percent</text>
<text x="393.80" y="330.00" font-size="7.3" font-weight="bold" fill="#000" textLength="117.40" lengthAdjust="spacingAndGlyphs" stroke="#000" stroke-width="0.2">UIS abundance (per 10,000 PBMCs)</text>
<polyline points="413.10,205.20 422.50,200.30 430.00,208.50 436.00,217.50 441.00,228.50 449.50,245.50 458.50,271.50" fill="none" stroke="#2c6460" stroke-width="1.6" stroke-linejoin="round"/>
<polyline points="458.50,271.50 476.20,286.20 485.40,297.70" fill="none" stroke="#2d5a72" stroke-width="1.5" stroke-linejoin="round"/>
<polyline points="458.50,271.50 464.80,274.00" fill="none" stroke="#2a8a2a" stroke-width="1.3" stroke-linejoin="round" stroke-dasharray="2.5,1.2"/>
<polyline points="413.10,213.90 422.50,200.30 431.90,205.90 440.70,216.60 450.00,236.90 458.50,252.30 467.70,261.50 476.20,274.20 485.40,274.20 494.60,263.80 503.80,278.50" fill="none" stroke="#74242a" stroke-width="1.6" stroke-linejoin="round"/>
<text x="486.20" y="260.80" font-size="6.6" font-weight="bold" fill="#a83236" textLength="12.30" lengthAdjust="spacingAndGlyphs" stroke="#a83236" stroke-width="0.2">ATLL</text>
<text x="486.20" y="294.60" font-size="6.6" font-weight="bold" fill="#2f7fc0" textLength="26.10" lengthAdjust="spacingAndGlyphs" stroke="#2f7fc0" stroke-width="0.2">HAM-TSP</text>
<text x="467.70" y="279.00" font-size="6.0" font-weight="bold" fill="#2a9a2a" textLength="6.20" lengthAdjust="spacingAndGlyphs" stroke="#2a9a2a" stroke-width="0.2">AC</text>
<rect x="412.25" y="215.15" width="1.7" height="1.7" fill="#c42a2a"/>
<rect x="412.25" y="218.45" width="1.7" height="1.7" fill="#c42a2a"/>
<rect x="412.25" y="221.85" width="1.7" height="1.7" fill="#c42a2a"/>
<text x="424.00" y="196.20" font-size="4.6" font-weight="normal" fill="#c42a2a" text-anchor="middle" transform="rotate(-90 424.00 196.20)" stroke="#c42a2a" stroke-width="0.25">NS</text>
<rect x="431.75" y="194.25" width="1.7" height="1.7" fill="#c42a2a"/>
<rect x="431.75" y="197.75" width="1.7" height="1.7" fill="#c42a2a"/>
<rect x="431.75" y="201.35" width="1.7" height="1.7" fill="#c42a2a"/>
<rect x="440.25" y="207.75" width="1.7" height="1.7" fill="#c42a2a"/>
<rect x="440.25" y="211.15" width="1.7" height="1.7" fill="#c42a2a"/>
<rect x="440.25" y="214.75" width="1.7" height="1.7" fill="#c42a2a"/>
<rect x="450.65" y="226.85" width="1.7" height="1.7" fill="#c42a2a"/>
<rect x="450.65" y="230.65" width="1.7" height="1.7" fill="#c42a2a"/>
<rect x="450.65" y="234.55" width="1.7" height="1.7" fill="#c42a2a"/>
<rect x="458.85" y="240.65" width="1.7" height="1.7" fill="#c42a2a"/>
<rect x="458.85" y="244.55" width="1.7" height="1.7" fill="#c42a2a"/>
<rect x="458.85" y="248.65" width="1.7" height="1.7" fill="#c42a2a"/>
<rect x="467.35" y="257.65" width="1.7" height="1.7" fill="#c42a2a"/>
<text x="2.00" y="369.10" font-size="10.2" font-weight="bold" fill="#000" stroke="#000" stroke-width="0.2">C</text>
<text x="13.50" y="368.60" font-size="7.5" font-weight="bold" fill="#000" textLength="143.50" lengthAdjust="spacingAndGlyphs" stroke="#000" stroke-width="0.2">Total number of unique insertion sites (UIS)</text>
<line x1="35.60" y1="389.20" x2="35.60" y2="503.90" stroke="#4a4a4a" stroke-width="1.8"/>
<line x1="34.70" y1="503.00" x2="152.60" y2="503.00" stroke="#4a4a4a" stroke-width="1.8"/>
<line x1="33.70" y1="503.00" x2="35.60" y2="503.00" stroke="#111" stroke-width="0.9"/>
<text x="31.20" y="503.60" font-size="7.8" font-weight="bold" fill="#000" text-anchor="end" transform="rotate(-45 31.20 503.60)" stroke="#000" stroke-width="0.2">0</text>
<line x1="33.70" y1="480.95" x2="35.60" y2="480.95" stroke="#111" stroke-width="0.9"/>
<text x="34.40" y="481.35" font-size="7.8" font-weight="bold" fill="#000" text-anchor="end" transform="rotate(-45 34.40 481.35)" stroke="#000" stroke-width="0.2">2,000</text>
<line x1="33.70" y1="458.90" x2="35.60" y2="458.90" stroke="#111" stroke-width="0.9"/>
<text x="34.40" y="459.30" font-size="7.8" font-weight="bold" fill="#000" text-anchor="end" transform="rotate(-45 34.40 459.30)" stroke="#000" stroke-width="0.2">4,000</text>
<line x1="33.70" y1="436.85" x2="35.60" y2="436.85" stroke="#111" stroke-width="0.9"/>
<text x="34.40" y="437.25" font-size="7.8" font-weight="bold" fill="#000" text-anchor="end" transform="rotate(-45 34.40 437.25)" stroke="#000" stroke-width="0.2">6,000</text>
<line x1="33.70" y1="414.80" x2="35.60" y2="414.80" stroke="#111" stroke-width="0.9"/>
<text x="34.40" y="415.20" font-size="7.8" font-weight="bold" fill="#000" text-anchor="end" transform="rotate(-45 34.40 415.20)" stroke="#000" stroke-width="0.2">8,000</text>
<line x1="33.70" y1="392.75" x2="35.60" y2="392.75" stroke="#111" stroke-width="0.9"/>
<text x="34.40" y="393.15" font-size="7.8" font-weight="bold" fill="#000" text-anchor="end" transform="rotate(-45 34.40 393.15)" stroke="#000" stroke-width="0.2">10,000</text>
<line x1="35.60" y1="503.00" x2="35.60" y2="504.50" stroke="#111" stroke-width="0.9"/>
<text x="39.60" y="508.40" font-size="7.8" font-weight="bold" fill="#000" text-anchor="end" transform="rotate(-45 39.60 508.40)" stroke="#000" stroke-width="0.2">10</text>
<line x1="74.60" y1="503.00" x2="74.60" y2="504.50" stroke="#111" stroke-width="0.9"/>
<text x="76.00" y="508.40" font-size="7.8" font-weight="bold" fill="#000" text-anchor="end" transform="rotate(-45 76.00 508.40)" stroke="#000" stroke-width="0.2">100</text>
<line x1="113.60" y1="503.00" x2="113.60" y2="504.50" stroke="#111" stroke-width="0.9"/>
<text x="115.60" y="508.40" font-size="7.8" font-weight="bold" fill="#000" text-anchor="end" transform="rotate(-45 115.60 508.40)" stroke="#000" stroke-width="0.2">1,000</text>
<line x1="152.60" y1="503.00" x2="152.60" y2="504.50" stroke="#111" stroke-width="0.9"/>
<text x="156.00" y="508.40" font-size="7.8" font-weight="bold" fill="#000" text-anchor="end" transform="rotate(-45 156.00 508.40)" stroke="#000" stroke-width="0.2">10,000</text>
<text x="9.10" y="444.90" font-size="7.5" font-weight="bold" fill="#000" text-anchor="middle" textLength="103.50" lengthAdjust="spacingAndGlyphs" transform="rotate(-90 9.10 444.90)" stroke="#000" stroke-width="0.2">Estimated total number of UISs</text>
<text x="23.80" y="531.90" font-size="7.3" font-weight="bold" fill="#000" textLength="128.80" lengthAdjust="spacingAndGlyphs" stroke="#000" stroke-width="0.2">Proviral load (copies per 10,000 PBMCs)</text>
<circle cx="122.50" cy="456.00" r="2.15" fill="#167a1f"/>
<circle cx="35.40" cy="502.30" r="2.15" fill="#167a1f"/>
<circle cx="54.00" cy="501.00" r="2.15" fill="#167a1f"/>
<circle cx="62.30" cy="501.20" r="2.15" fill="#167a1f"/>
<circle cx="65.40" cy="495.80" r="2.15" fill="#167a1f"/>
<circle cx="81.80" cy="484.10" r="2.15" fill="#167a1f"/>
<circle cx="95.30" cy="470.70" r="2.15" fill="#167a1f"/>
<circle cx="89.20" cy="479.40" r="2.15" fill="#167a1f"/>
<circle cx="95.30" cy="476.70" r="2.15" fill="#167a1f"/>
<circle cx="90.30" cy="490.20" r="2.15" fill="#167a1f"/>
<circle cx="81.50" cy="495.20" r="2.15" fill="#167a1f"/>
<circle cx="90.60" cy="495.20" r="2.15" fill="#167a1f"/>
<circle cx="94.20" cy="457.70" r="2.15" fill="#167a1f"/>
<circle cx="95.10" cy="470.90" r="2.15" fill="#167a1f"/>
<circle cx="89.70" cy="478.60" r="2.15" fill="#167a1f"/>
<circle cx="104.90" cy="482.60" r="2.15" fill="#167a1f"/>
<circle cx="100.50" cy="488.60" r="2.15" fill="#167a1f"/>
<circle cx="90.40" cy="495.10" r="2.15" fill="#167a1f"/>
<circle cx="100.10" cy="496.00" r="2.15" fill="#167a1f"/>
<circle cx="101.80" cy="502.10" r="2.15" fill="#167a1f"/>
<path d="M94.40 403.90L96.80 406.30L94.40 408.70L92.00 406.30Z" fill="#2470bd"/>
<path d="M123.70 411.10L126.10 413.50L123.70 415.90L121.30 413.50Z" fill="#2470bd"/>
<path d="M112.70 439.90L115.10 442.30L112.70 444.70L110.30 442.30Z" fill="#2470bd"/>
<path d="M100.20 446.60L102.60 449.00L100.20 451.40L97.80 449.00Z" fill="#2470bd"/>
<path d="M102.10 448.60L104.50 451.00L102.10 453.40L99.70 451.00Z" fill="#2470bd"/>
<path d="M103.50 452.80L105.90 455.20L103.50 457.60L101.10 455.20Z" fill="#2470bd"/>
<path d="M115.60 448.00L118.00 450.40L115.60 452.80L113.20 450.40Z" fill="#2470bd"/>
<path d="M118.50 451.10L120.90 453.50L118.50 455.90L116.10 453.50Z" fill="#2470bd"/>
<path d="M121.90 453.40L124.30 455.80L121.90 458.20L119.50 455.80Z" fill="#2470bd"/>
<path d="M124.20 451.80L126.60 454.20L124.20 456.60L121.80 454.20Z" fill="#2470bd"/>
<path d="M106.40 460.40L108.80 462.80L106.40 465.20L104.00 462.80Z" fill="#2470bd"/>
<path d="M109.80 464.10L112.20 466.50L109.80 468.90L107.40 466.50Z" fill="#2470bd"/>
<path d="M110.90 468.20L113.30 470.60L110.90 473.00L108.50 470.60Z" fill="#2470bd"/>
<path d="M97.00 462.10L99.40 464.50L97.00 466.90L94.60 464.50Z" fill="#2470bd"/>
<path d="M99.70 466.80L102.10 469.20L99.70 471.60L97.30 469.20Z" fill="#2470bd"/>
<path d="M86.90 467.50L89.30 469.90L86.90 472.30L84.50 469.90Z" fill="#2470bd"/>
<path d="M90.30 475.60L92.70 478.00L90.30 480.40L87.90 478.00Z" fill="#2470bd"/>
<path d="M104.40 474.20L106.80 476.60L104.40 479.00L102.00 476.60Z" fill="#2470bd"/>
<path d="M75.10 487.10L77.50 489.50L75.10 491.90L72.70 489.50Z" fill="#2470bd"/>
<path d="M77.80 485.10L80.20 487.50L77.80 489.90L75.40 487.50Z" fill="#2470bd"/>
<path d="M80.50 483.10L82.90 485.50L80.50 487.90L78.10 485.50Z" fill="#2470bd"/>
<path d="M83.20 485.10L85.60 487.50L83.20 489.90L80.80 487.50Z" fill="#2470bd"/>
<path d="M87.20 468.30L89.60 470.70L87.20 473.10L84.80 470.70Z" fill="#2470bd"/>
<path d="M91.90 475.70L94.30 478.10L91.90 480.50L89.50 478.10Z" fill="#2470bd"/>
<path d="M95.30 484.40L97.70 486.80L95.30 489.20L92.90 486.80Z" fill="#2470bd"/>
<path d="M103.20 453.30L105.60 455.70L103.20 458.10L100.80 455.70Z" fill="#2470bd"/>
<path d="M97.10 462.00L99.50 464.40L97.10 466.80L94.70 464.40Z" fill="#2470bd"/>
<path d="M92.40 476.20L94.80 478.60L92.40 481.00L90.00 478.60Z" fill="#2470bd"/>
<polygon points="121.20,473.77 123.22,477.82 119.18,477.82" fill="#e8c8c8" stroke="#2a1616" stroke-width="1.1" stroke-linejoin="miter"/>
<polygon points="113.00,481.87 115.02,485.92 110.98,485.92" fill="#e8c8c8" stroke="#2a1616" stroke-width="1.1" stroke-linejoin="miter"/>
<polygon points="113.00,494.27 115.02,498.32 110.98,498.32" fill="#e8c8c8" stroke="#2a1616" stroke-width="1.1" stroke-linejoin="miter"/>
<polygon points="118.60,494.27 120.62,498.32 116.58,498.32" fill="#e8c8c8" stroke="#2a1616" stroke-width="1.1" stroke-linejoin="miter"/>
<polygon points="95.50,498.97 97.52,503.02 93.48,503.02" fill="#e8c8c8" stroke="#2a1616" stroke-width="1.1" stroke-linejoin="miter"/>
<polygon points="137.50,499.97 139.52,504.02 135.48,504.02" fill="#e8c8c8" stroke="#2a1616" stroke-width="1.1" stroke-linejoin="miter"/>
<polygon points="85.90,492.77 87.92,496.82 83.88,496.82" fill="#f0f070" stroke="#2a2a00" stroke-width="1.1"/>
<polygon points="107.20,478.57 109.22,482.62 105.18,482.62" fill="#111" stroke="#f5f040" stroke-width="1.1"/>
<polygon points="124.40,491.87 126.42,495.92 122.38,495.92" fill="#111"/>
<polygon points="128.30,494.57 130.32,498.62 126.28,498.62" fill="#111"/>
<polygon points="130.80,496.27 132.82,500.32 128.78,500.32" fill="#111"/>
<polygon points="126.70,499.97 128.72,504.02 124.68,504.02" fill="#111"/>
<polygon points="115.60,438.87 117.62,442.92 113.58,442.92" fill="#d9262b"/>
<polygon points="121.90,445.97 123.92,450.02 119.88,450.02" fill="#d9262b"/>
<polygon points="122.00,487.27 124.02,491.32 119.98,491.32" fill="#d9262b"/>
<polygon points="104.90,494.57 106.92,498.62 102.88,498.62" fill="#d9262b"/>
<polygon points="116.40,500.37 118.42,504.42 114.38,504.42" fill="#d9262b"/>
<polygon points="124.00,500.37 126.02,504.42 121.98,504.42" fill="#d9262b"/>
<polygon points="142.90,500.37 144.92,504.42 140.88,504.42" fill="#d9262b"/>
<text x="149.80" y="396.20" font-size="5.2" font-weight="bold" fill="#000" textLength="7.00" lengthAdjust="spacingAndGlyphs" stroke="#000" stroke-width="0.2">AC</text>
<circle cx="193.60" cy="394.40" r="2.5" fill="#167a1f"/>
<text x="149.80" y="405.10" font-size="5.4" font-weight="bold" fill="#000" textLength="23.00" lengthAdjust="spacingAndGlyphs" stroke="#000" stroke-width="0.2">HAM-TSP</text>
<path d="M193.60 402.00L196.40 404.80L193.60 407.60L190.80 404.80Z" fill="#2470bd"/>
<text x="149.80" y="413.50" font-size="5.2" font-weight="bold" fill="#000" textLength="11.50" lengthAdjust="spacingAndGlyphs" stroke="#000" stroke-width="0.2">ATLL</text>
<text x="153.30" y="422.70" font-size="5.2" font-weight="bold" fill="#000" textLength="24.50" lengthAdjust="spacingAndGlyphs" stroke="#000" stroke-width="0.2">Cutaneous</text>
<text x="153.30" y="429.90" font-size="5.2" font-weight="bold" fill="#000" textLength="22.00" lengthAdjust="spacingAndGlyphs" stroke="#000" stroke-width="0.2">leukemia</text>
<polygon points="194.00,418.51 196.58,423.66 191.42,423.66" fill="#e8c8c8" stroke="#2a1616" stroke-width="1.1" stroke-linejoin="miter"/>
<text x="153.80" y="446.60" font-size="5.2" font-weight="bold" fill="#000" textLength="26.50" lengthAdjust="spacingAndGlyphs" stroke="#000" stroke-width="0.2">Lymphoma</text>
<polygon points="194.00,442.91 196.58,448.06 191.42,448.06" fill="#f0f070" stroke="#2a2a00" stroke-width="1.1"/>
<text x="153.80" y="458.90" font-size="5.2" font-weight="bold" fill="#000" textLength="26.50" lengthAdjust="spacingAndGlyphs" stroke="#000" stroke-width="0.2">Lymphoma</text>
<text x="153.80" y="466.30" font-size="5.2" font-weight="bold" fill="#000" textLength="32.50" lengthAdjust="spacingAndGlyphs" stroke="#000" stroke-width="0.2">(lymph node)</text>
<polygon points="194.00,455.79 195.84,459.47 192.16,459.47" fill="#111" stroke="#f5f040" stroke-width="1.1"/>
<text x="153.50" y="475.50" font-size="5.2" font-weight="bold" fill="#000" textLength="14.50" lengthAdjust="spacingAndGlyphs" stroke="#000" stroke-width="0.2">Acute</text>
<text x="153.50" y="482.80" font-size="5.2" font-weight="bold" fill="#000" textLength="22.00" lengthAdjust="spacingAndGlyphs" stroke="#000" stroke-width="0.2">leukemia</text>
<polygon points="194.00,471.55 196.88,477.30 191.12,477.30" fill="#111"/>
<text x="153.50" y="492.00" font-size="5.2" font-weight="bold" fill="#000" textLength="19.50" lengthAdjust="spacingAndGlyphs" stroke="#000" stroke-width="0.2">Chronic</text>
<text x="153.50" y="498.90" font-size="5.2" font-weight="bold" fill="#000" textLength="22.00" lengthAdjust="spacingAndGlyphs" stroke="#000" stroke-width="0.2">leukemia</text>
<polygon points="194.00,487.95 196.88,493.70 191.12,493.70" fill="#d9262b"/>
<line x1="235.80" y1="418.90" x2="235.80" y2="504.80" stroke="#111" stroke-width="1.3"/>
<line x1="235.20" y1="504.20" x2="291.30" y2="504.20" stroke="#111" stroke-width="1.3"/>
<line x1="233.80" y1="504.20" x2="235.80" y2="504.20" stroke="#111" stroke-width="1.0"/>
<text x="232.10" y="506.30" font-size="5.9" font-weight="bold" fill="#000" text-anchor="end" stroke="#000" stroke-width="0.2">0</text>
<line x1="233.80" y1="487.20" x2="235.80" y2="487.20" stroke="#111" stroke-width="1.0"/>
<text x="232.10" y="489.30" font-size="5.9" font-weight="bold" fill="#000" text-anchor="end" stroke="#000" stroke-width="0.2">2000</text>
<line x1="233.80" y1="470.20" x2="235.80" y2="470.20" stroke="#111" stroke-width="1.0"/>
<text x="232.10" y="472.30" font-size="5.9" font-weight="bold" fill="#000" text-anchor="end" stroke="#000" stroke-width="0.2">4000</text>
<line x1="233.80" y1="453.30" x2="235.80" y2="453.30" stroke="#111" stroke-width="1.0"/>
<text x="232.10" y="455.40" font-size="5.9" font-weight="bold" fill="#000" text-anchor="end" stroke="#000" stroke-width="0.2">6000</text>
<line x1="233.80" y1="436.40" x2="235.80" y2="436.40" stroke="#111" stroke-width="1.0"/>
<text x="232.10" y="438.50" font-size="5.9" font-weight="bold" fill="#000" text-anchor="end" stroke="#000" stroke-width="0.2">8000</text>
<line x1="233.80" y1="419.40" x2="235.80" y2="419.40" stroke="#111" stroke-width="1.0"/>
<text x="232.10" y="421.50" font-size="5.9" font-weight="bold" fill="#000" text-anchor="end" stroke="#000" stroke-width="0.2">10000</text>
<line x1="240.30" y1="504.20" x2="240.30" y2="506.20" stroke="#111" stroke-width="1.0"/>
<line x1="249.80" y1="504.20" x2="249.80" y2="506.20" stroke="#111" stroke-width="1.0"/>
<line x1="258.80" y1="504.20" x2="258.80" y2="506.20" stroke="#111" stroke-width="1.0"/>
<line x1="268.60" y1="504.20" x2="268.60" y2="506.20" stroke="#111" stroke-width="1.0"/>
<line x1="277.20" y1="504.20" x2="277.20" y2="506.20" stroke="#111" stroke-width="1.0"/>
<line x1="287.00" y1="504.20" x2="287.00" y2="506.20" stroke="#111" stroke-width="1.0"/>
<line x1="240.50" y1="469.30" x2="240.50" y2="503.60" stroke="#111" stroke-width="1.0"/>
<line x1="238.90" y1="469.30" x2="242.10" y2="469.30" stroke="#111" stroke-width="1.0"/>
<line x1="238.90" y1="503.60" x2="242.10" y2="503.60" stroke="#111" stroke-width="1.0"/>
<rect x="237.40" y="485.50" width="6.20" height="13.80" fill="#2a8a2a" stroke="#0d2a0d" stroke-width="1.0"/>
<line x1="237.40" y1="493.30" x2="243.60" y2="493.30" stroke="#0d2a0d" stroke-width="1.0"/>
<line x1="249.50" y1="431.50" x2="249.50" y2="494.60" stroke="#111" stroke-width="1.0"/>
<line x1="247.90" y1="431.50" x2="251.10" y2="431.50" stroke="#111" stroke-width="1.0"/>
<line x1="247.90" y1="494.60" x2="251.10" y2="494.60" stroke="#111" stroke-width="1.0"/>
<rect x="246.40" y="467.30" width="6.20" height="18.20" fill="#5aa5e6" stroke="#0c2440" stroke-width="1.0"/>
<line x1="246.40" y1="476.30" x2="252.60" y2="476.30" stroke="#0c2440" stroke-width="1.0"/>
<line x1="258.50" y1="483.20" x2="258.50" y2="501.90" stroke="#111" stroke-width="1.0"/>
<line x1="256.90" y1="483.20" x2="260.10" y2="483.20" stroke="#111" stroke-width="1.0"/>
<line x1="256.90" y1="501.90" x2="260.10" y2="501.90" stroke="#111" stroke-width="1.0"/>
<rect x="255.40" y="483.20" width="6.20" height="16.10" fill="#d8989a" stroke="#2a1414" stroke-width="1.0"/>
<line x1="255.40" y1="494.10" x2="261.60" y2="494.10" stroke="#2a1414" stroke-width="1.0"/>
<line x1="268.50" y1="457.30" x2="268.50" y2="504.00" stroke="#111" stroke-width="1.0"/>
<line x1="266.90" y1="457.30" x2="270.10" y2="457.30" stroke="#111" stroke-width="1.0"/>
<line x1="266.90" y1="504.00" x2="270.10" y2="504.00" stroke="#111" stroke-width="1.0"/>
<rect x="265.40" y="462.50" width="6.20" height="41.50" fill="#ee1c1c" stroke="#2a0606" stroke-width="1.0"/>
<line x1="265.40" y1="499.30" x2="271.60" y2="499.30" stroke="#2a0606" stroke-width="1.0"/>
<line x1="277.50" y1="496.50" x2="277.50" y2="504.00" stroke="#111" stroke-width="1.0"/>
<line x1="275.90" y1="496.50" x2="279.10" y2="496.50" stroke="#111" stroke-width="1.0"/>
<line x1="275.90" y1="504.00" x2="279.10" y2="504.00" stroke="#111" stroke-width="1.0"/>
<rect x="274.40" y="497.20" width="6.20" height="6.80" fill="#111" stroke="#111" stroke-width="1.0"/>
<line x1="274.40" y1="500.00" x2="280.60" y2="500.00" stroke="#111" stroke-width="1.0"/>
<line x1="286.50" y1="486.90" x2="286.50" y2="504.00" stroke="#111" stroke-width="1.0"/>
<line x1="284.90" y1="486.90" x2="288.10" y2="486.90" stroke="#111" stroke-width="1.0"/>
<line x1="284.90" y1="504.00" x2="288.10" y2="504.00" stroke="#111" stroke-width="1.0"/>
<line x1="283.40" y1="497.90" x2="289.60" y2="497.90" stroke="#111" stroke-width="1.0"/>
<text x="241.70" y="512.50" font-size="6.5" font-weight="bold" fill="#000" text-anchor="end" transform="rotate(-45 241.70 512.50)" stroke="#000" stroke-width="0.2">AC</text>
<text x="251.20" y="512.50" font-size="6.5" font-weight="bold" fill="#000" text-anchor="end" transform="rotate(-45 251.20 512.50)" stroke="#000" stroke-width="0.2">HAM-TSP</text>
<text x="260.20" y="512.50" font-size="6.5" font-weight="bold" fill="#000" text-anchor="end" transform="rotate(-45 260.20 512.50)" stroke="#000" stroke-width="0.2">Cutaneous</text>
<text x="270.00" y="512.50" font-size="6.5" font-weight="bold" fill="#000" text-anchor="end" transform="rotate(-45 270.00 512.50)" stroke="#000" stroke-width="0.2">Chronic</text>
<text x="278.60" y="512.50" font-size="6.5" font-weight="bold" fill="#000" text-anchor="end" transform="rotate(-45 278.60 512.50)" stroke="#000" stroke-width="0.2">Acute</text>
<text x="288.40" y="512.50" font-size="6.5" font-weight="bold" fill="#000" text-anchor="end" transform="rotate(-45 288.40 512.50)" stroke="#000" stroke-width="0.2">Lymphoma</text>
<line x1="240.50" y1="396.80" x2="284.40" y2="396.80" stroke="#222" stroke-width="1.0"/>
<line x1="240.50" y1="396.30" x2="240.50" y2="410.80" stroke="#222" stroke-width="1.0"/>
<circle cx="250.00" cy="400.40" r="1.1" fill="#111"/>
<circle cx="250.00" cy="404.30" r="1.1" fill="#111"/>
<circle cx="250.00" cy="408.10" r="1.1" fill="#111"/>
<text x="259.80" y="403.80" font-size="4.8" font-weight="normal" fill="#000" text-anchor="middle" transform="rotate(-90 259.80 403.80)" stroke="#222" stroke-width="0.15">NS</text>
<text x="268.90" y="403.80" font-size="4.8" font-weight="normal" fill="#000" text-anchor="middle" transform="rotate(-90 268.90 403.80)" stroke="#222" stroke-width="0.15">NS</text>
<circle cx="275.80" cy="401.70" r="1.1" fill="#111"/>
<circle cx="275.80" cy="405.80" r="1.1" fill="#111"/>
<text x="287.20" y="403.80" font-size="4.8" font-weight="normal" fill="#000" text-anchor="middle" transform="rotate(-90 287.20 403.80)" stroke="#222" stroke-width="0.15">NS</text>
<text x="341.90" y="368.00" font-size="10.8" font-weight="bold" fill="#000" stroke="#000" stroke-width="0.2">E</text>
<text x="352.70" y="367.80" font-size="7.8" font-weight="bold" fill="#000" textLength="165.00" lengthAdjust="spacingAndGlyphs" stroke="#000" stroke-width="0.2">Absolute frequency distribution of UIS abundance</text>
<line x1="388.00" y1="387.00" x2="388.00" y2="501.40" stroke="#333" stroke-width="1.6"/>
<line x1="387.20" y1="500.60" x2="502.00" y2="500.60" stroke="#333" stroke-width="1.6"/>
<line x1="386.00" y1="388.00" x2="388.00" y2="388.00" stroke="#111" stroke-width="1.0"/>
<text x="384.80" y="387.90" font-size="7.8" font-weight="bold" fill="#000" text-anchor="end" transform="rotate(-45 384.80 387.90)" stroke="#000" stroke-width="0.2">1000</text>
<line x1="386.00" y1="410.50" x2="388.00" y2="410.50" stroke="#111" stroke-width="1.0"/>
<text x="384.80" y="410.40" font-size="7.8" font-weight="bold" fill="#000" text-anchor="end" transform="rotate(-45 384.80 410.40)" stroke="#000" stroke-width="0.2">100</text>
<line x1="386.00" y1="433.00" x2="388.00" y2="433.00" stroke="#111" stroke-width="1.0"/>
<text x="384.80" y="432.90" font-size="7.8" font-weight="bold" fill="#000" text-anchor="end" transform="rotate(-45 384.80 432.90)" stroke="#000" stroke-width="0.2">10</text>
<line x1="386.00" y1="455.50" x2="388.00" y2="455.50" stroke="#111" stroke-width="1.0"/>
<text x="384.80" y="455.40" font-size="7.8" font-weight="bold" fill="#000" text-anchor="end" transform="rotate(-45 384.80 455.40)" stroke="#000" stroke-width="0.2">1</text>
<line x1="386.00" y1="478.00" x2="388.00" y2="478.00" stroke="#111" stroke-width="1.0"/>
<text x="384.80" y="477.90" font-size="7.8" font-weight="bold" fill="#000" text-anchor="end" transform="rotate(-45 384.80 477.90)" stroke="#000" stroke-width="0.2">0.1</text>
<line x1="386.00" y1="500.50" x2="388.00" y2="500.50" stroke="#111" stroke-width="1.0"/>
<text x="384.80" y="498.40" font-size="7.8" font-weight="bold" fill="#000" text-anchor="end" transform="rotate(-45 384.80 498.40)" stroke="#000" stroke-width="0.2">0.01</text>
<line x1="388.00" y1="500.60" x2="388.00" y2="502.60" stroke="#111" stroke-width="1.0"/>
<text x="391.40" y="506.20" font-size="7.8" font-weight="bold" fill="#000" text-anchor="end" transform="rotate(-45 391.40 506.20)" stroke="#000" stroke-width="0.2">0.01</text>
<line x1="425.50" y1="500.60" x2="425.50" y2="502.60" stroke="#111" stroke-width="1.0"/>
<text x="426.90" y="506.20" font-size="7.8" font-weight="bold" fill="#000" text-anchor="end" transform="rotate(-45 426.90 506.20)" stroke="#000" stroke-width="0.2">1</text>
<line x1="463.00" y1="500.60" x2="463.00" y2="502.60" stroke="#111" stroke-width="1.0"/>
<text x="464.40" y="506.20" font-size="7.8" font-weight="bold" fill="#000" text-anchor="end" transform="rotate(-45 464.40 506.20)" stroke="#000" stroke-width="0.2">100</text>
<line x1="500.50" y1="500.60" x2="500.50" y2="502.60" stroke="#111" stroke-width="1.0"/>
<text x="504.10" y="505.60" font-size="7.8" font-weight="bold" fill="#000" text-anchor="end" transform="rotate(-45 504.10 505.60)" stroke="#000" stroke-width="0.2">10,000</text>
<text x="364.60" y="449.90" font-size="7.5" font-weight="bold" fill="#000" text-anchor="middle" textLength="114.00" lengthAdjust="spacingAndGlyphs" transform="rotate(-90 364.60 449.90)" stroke="#000" stroke-width="0.2">Average number of UIS per patient</text>
<text x="386.20" y="530.50" font-size="7.6" font-weight="bold" fill="#000" textLength="117.50" lengthAdjust="spacingAndGlyphs" stroke="#000" stroke-width="0.2">UIS abundance (per 10,000 PBMCs)</text>
<polyline points="409.40,401.50 416.80,397.50 424.90,406.20 431.60,417.70 440.40,438.50 453.10,468.90 461.20,471.20" fill="none" stroke="#2a7a2e" stroke-width="1.5" stroke-linejoin="round" stroke-dasharray="3,1.6"/>
<polyline points="408.10,412.30 417.20,399.90 423.60,404.90 427.00,408.00 434.30,418.40 444.40,437.90 455.40,456.20 463.50,463.10 471.60,474.20 479.70,474.20 488.90,463.60 498.20,478.20" fill="none" stroke="#92242f" stroke-width="1.6" stroke-linejoin="round"/>
<polyline points="408.10,394.80 416.80,390.80 424.90,398.20 432.30,413.00 437.00,423.00 445.00,437.70 453.10,462.00 463.50,467.80 479.70,487.40" fill="none" stroke="#2e6a9e" stroke-width="1.5" stroke-linejoin="round"/>
<text x="485.00" y="460.70" font-size="6.6" font-weight="bold" fill="#a83236" textLength="11.50" lengthAdjust="spacingAndGlyphs" stroke="#a83236" stroke-width="0.2">ATLL</text>
<text x="481.90" y="488.80" font-size="6.6" font-weight="bold" fill="#2f7fc0" textLength="25.40" lengthAdjust="spacingAndGlyphs" stroke="#2f7fc0" stroke-width="0.2">HAM-TSP</text>
<text x="452.70" y="478.10" font-size="6.2" font-weight="bold" fill="#2a9a2a" textLength="6.90" lengthAdjust="spacingAndGlyphs" stroke="#2a9a2a" stroke-width="0.2">AC</text>
<text x="407.60" y="389.60" font-size="4.6" font-weight="normal" fill="#3a86c8" text-anchor="middle" transform="rotate(-90 407.60 389.60)" stroke="#3a86c8" stroke-width="0.25">NS</text>
<rect x="415.95" y="386.15" width="1.7" height="1.7" fill="#2a4a6e"/>
<rect x="427.05" y="390.95" width="1.7" height="1.7" fill="#2a4a6e"/>
<rect x="427.05" y="394.25" width="1.7" height="1.7" fill="#2a4a6e"/>
<rect x="435.25" y="412.15" width="1.7" height="1.7" fill="#2a4a6e"/>
<text x="447.60" y="436.00" font-size="4.6" font-weight="normal" fill="#3a86c8" text-anchor="middle" transform="rotate(-90 447.60 436.00)" stroke="#3a86c8" stroke-width="0.25">NS</text>
<text x="455.80" y="456.20" font-size="4.6" font-weight="normal" fill="#3a86c8" text-anchor="middle" transform="rotate(-90 455.80 456.20)" stroke="#3a86c8" stroke-width="0.25">NS</text>
<text x="463.00" y="464.30" font-size="4.6" font-weight="normal" fill="#3a86c8" text-anchor="middle" transform="rotate(-90 463.00 464.30)" stroke="#3a86c8" stroke-width="0.25">NS</text>
</svg>
</body></html>
